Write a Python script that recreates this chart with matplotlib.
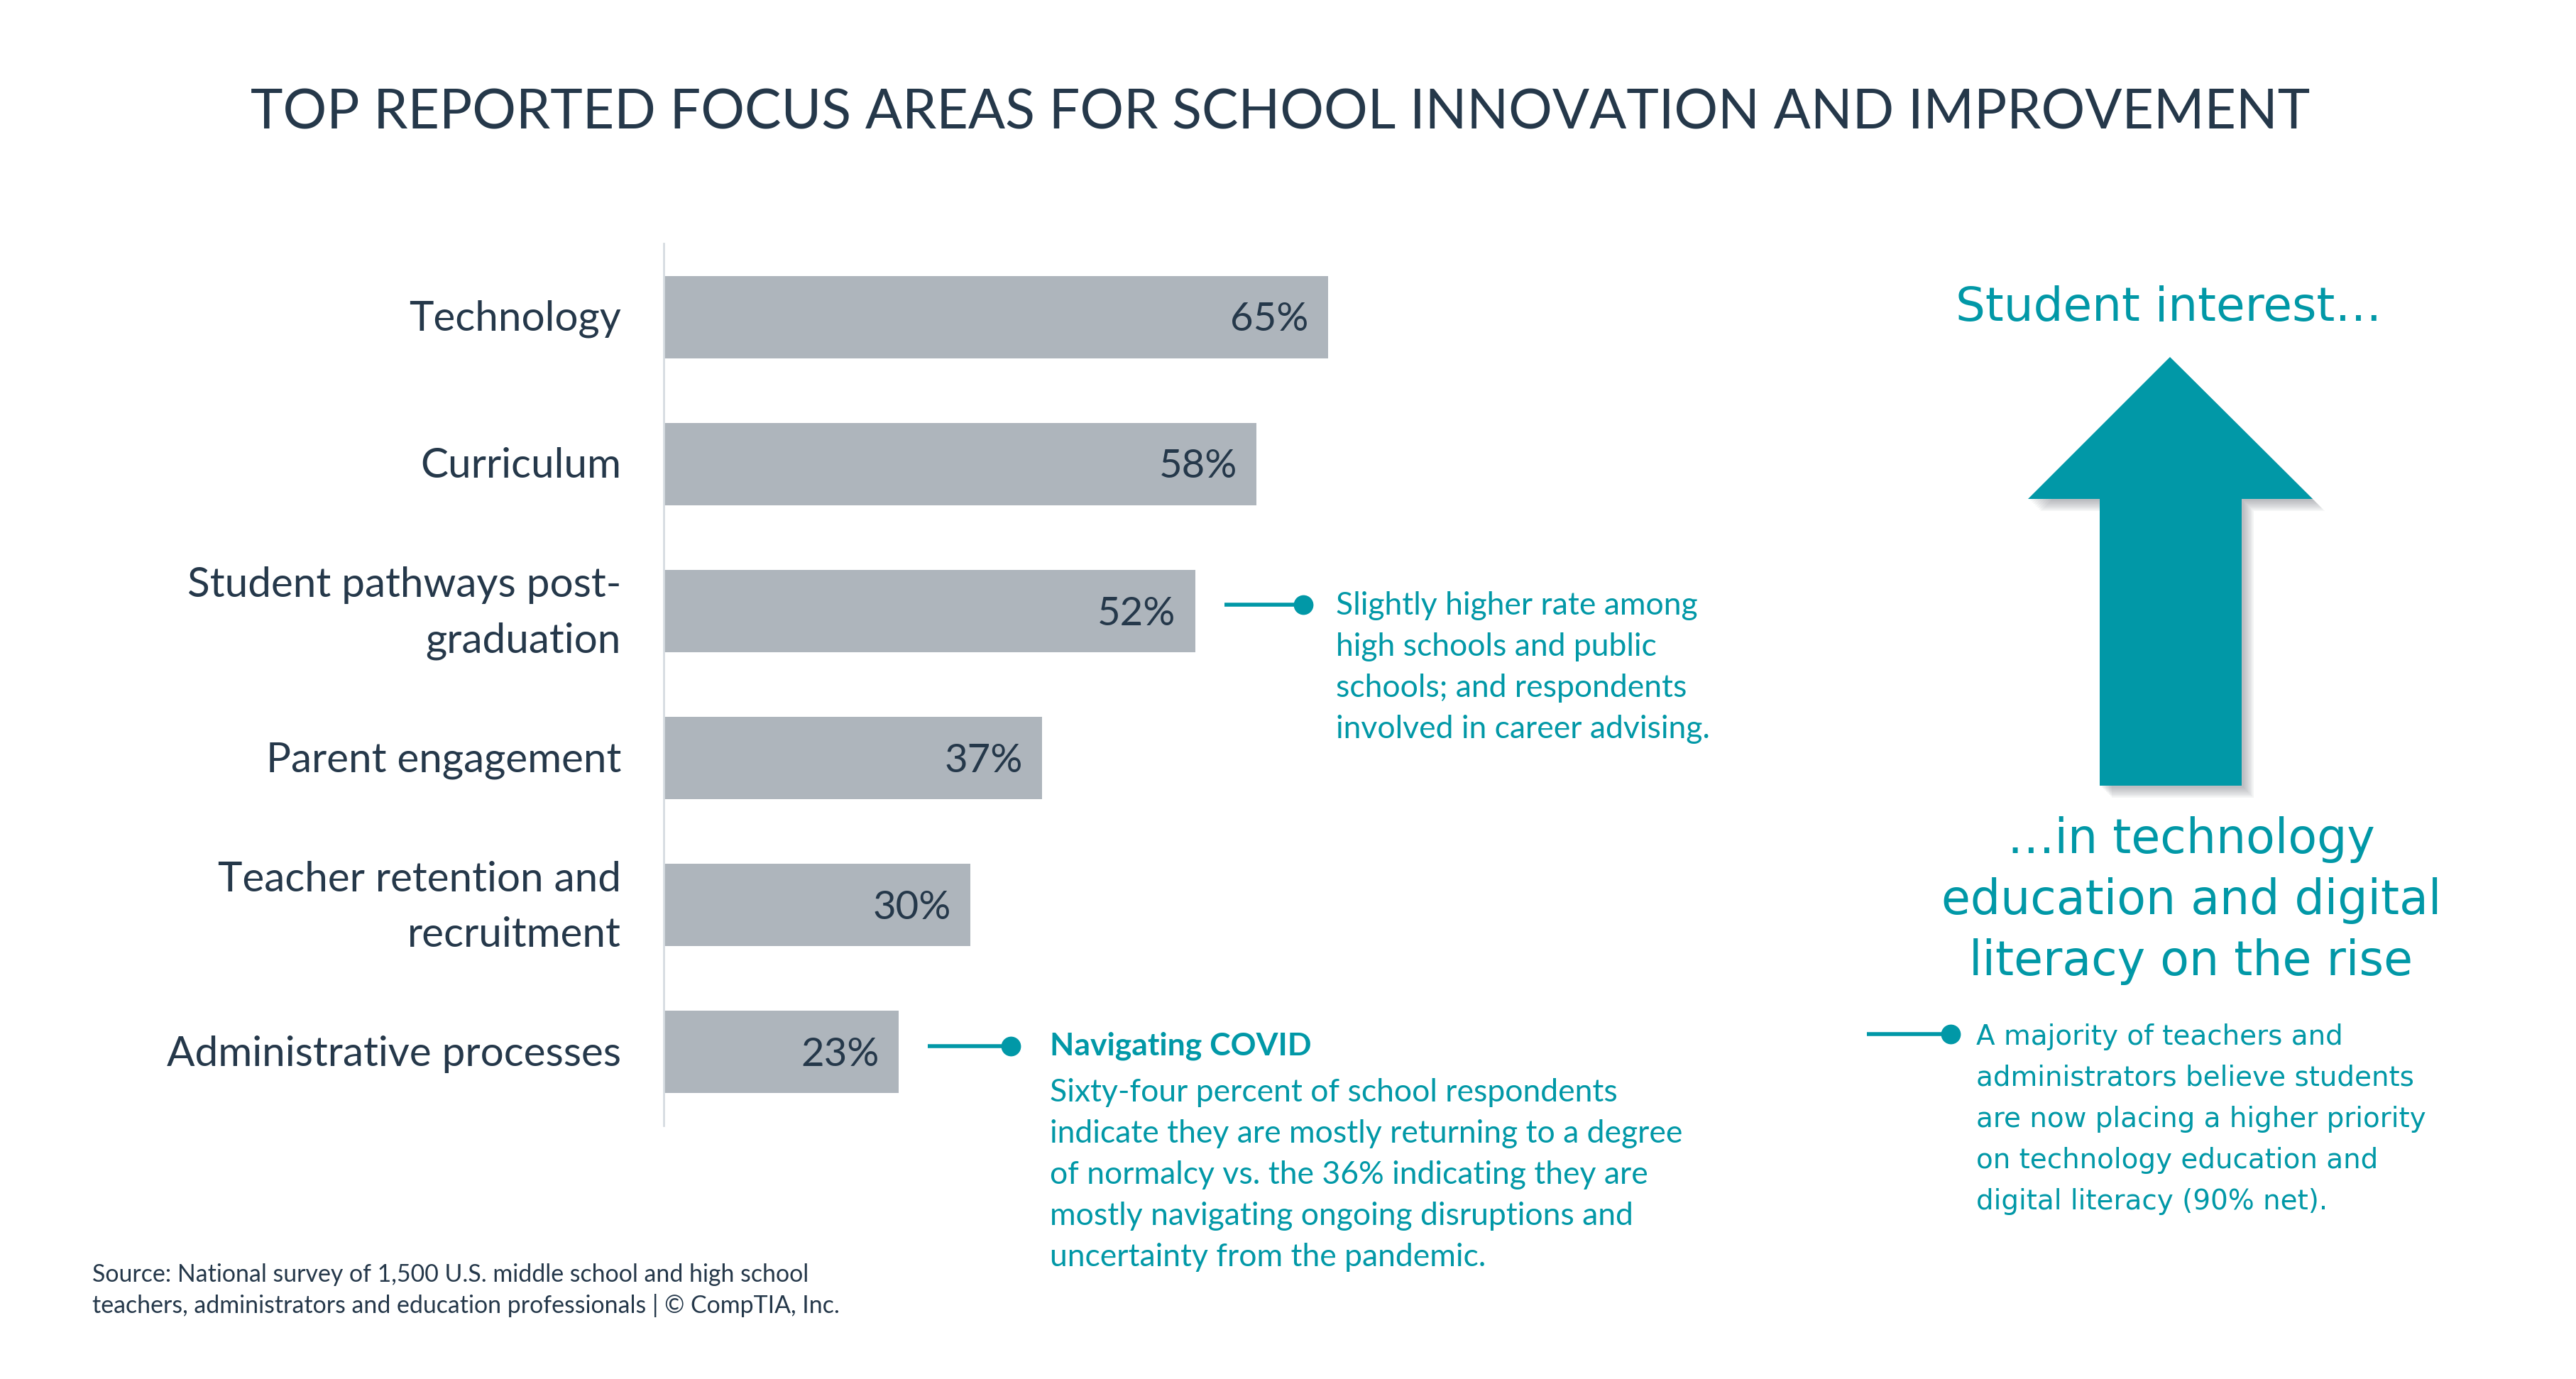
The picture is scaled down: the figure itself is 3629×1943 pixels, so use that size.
import matplotlib
matplotlib.use("Agg")
import matplotlib.pyplot as plt
from matplotlib.patches import Polygon
from matplotlib.transforms import blended_transform_factory, ScaledTranslation

# ---------------- data ----------------
categories = ["Technology", "Curriculum", "Student pathways post-\ngraduation",
              "Parent engagement", "Teacher retention and\nrecruitment",
              "Administrative processes"]
values = [65, 58, 52, 37, 30, 23]
value_labels = ["65%", "58%", "52%", "37%", "30%", "23%"]

title = "TOP REPORTED FOCUS AREAS FOR SCHOOL INNOVATION AND IMPROVEMENT"
note_pathways = ["Slightly higher rate among", "high schools and public",
                 "schools; and respondents", "involved in career advising."]
covid_head = "Navigating COVID"
covid_lines = ["Sixty-four percent of school respondents",
               "indicate they are mostly returning to a degree",
               "of normalcy vs. the 36% indicating they are",
               "mostly navigating ongoing disruptions and",
               "uncertainty from the pandemic."]
right_top = "Student interest\u2026"
right_mid = ["\u2026in technology", "education and digital", "literacy on the rise"]
right_note = ["A majority of teachers and", "administrators believe students",
              "are now placing a higher priority", "on technology education and",
              "digital literacy (90% net)."]
source_lines = ["Source: National survey of 1,500 U.S. middle school and high school",
                "teachers, administrators and education professionals | \u00a9 CompTIA, Inc."]

# ---------------- style ----------------
W, H = 3630, 1943
DARK = "#25384A"
TEAL = "#0198A7"
BAR = "#AEB5BC"
SPINE = "#D6DCE1"
CAL = ["Lato", "DejaVu Sans"]
VER = ["DejaVu Sans"]

fig = plt.figure(figsize=(W / 100, H / 100), dpi=100)
fig.patch.set_facecolor("white")

# overlay in pixel coordinates for decorations
ov = fig.add_axes([0, 0, 1, 1], zorder=0)
ov.set_xlim(0, W)
ov.set_ylim(H, 0)
ov.axis("off")

# ---------------- bar chart ----------------
ax_left, ax_top, ax_bot = 935, 343, 1586
ax = fig.add_axes([ax_left / W, 1 - ax_bot / H, 1440 / W, (ax_bot - ax_top) / H], zorder=2)
ax.patch.set_alpha(0)
ypos = list(range(len(categories)))
ax.barh(ypos, values, height=0.56, color=BAR, left=0)
ax.set_xlim(0, 100)
ax.set_ylim(5.5, -0.5)
for s in ["top", "right", "bottom"]:
    ax.spines[s].set_visible(False)
ax.spines["left"].set_color(SPINE)
ax.spines["left"].set_linewidth(2)
ax.set_xticks([])
ax.set_yticks([])

lab_tr = blended_transform_factory(ax.transAxes, ax.transData) + \
    ScaledTranslation(-0.60, 0, fig.dpi_scale_trans)
for y, cat in zip(ypos, categories):
    ax.text(0, y + 0.015, cat, transform=lab_tr, ha="right", va="center",
            fontsize=42, color=DARK, family=CAL, linespacing=1.58)
for y, v, lab in zip(ypos, values, value_labels):
    ax.text(v - 1.9, y + 0.02, lab, ha="right", va="center", fontsize=40.5,
            color=DARK, family=CAL)

# ---------------- title ----------------
ov.text(1804, 160, title, ha="center", va="center", fontsize=55.5, color=DARK,
        family=CAL)


def connector(x0, x1, y):
    ov.plot([x0, x1], [y, y], color=TEAL, lw=4, solid_capstyle="butt", zorder=3)
    ov.plot([x1], [y], "o", color=TEAL, ms=19, zorder=3)


# pathways note
connector(1725, 1836, 852)
for i, line in enumerate(note_pathways):
    ov.text(1882, 854 + i * 58, line, ha="left", va="center", fontsize=32,
            color=TEAL, family=CAL)

# covid note
connector(1307, 1424, 1474)
ov.text(1479, 1474, covid_head, ha="left", va="center", fontsize=32,
        color=TEAL, family=CAL, fontweight="bold")
for i, line in enumerate(covid_lines):
    ov.text(1479, 1540 + i * 58, line, ha="left", va="center", fontsize=32,
            color=TEAL, family=CAL)

# ---------------- right panel ----------------
ov.text(3055, 434, right_top, ha="center", va="center", fontsize=47.5,
        color=TEAL, family=VER)

arrow = [(3057, 503), (3258, 703), (3158, 703), (3158, 1107),
         (2958, 1107), (2958, 703), (2857, 703)]
for k in range(8):
    off = 3 + k * 2
    sh = [(x + off, y + off) for x, y in arrow]
    ov.add_patch(Polygon(sh, closed=True, facecolor="#70757C", edgecolor="none",
                         alpha=0.07, zorder=1))
ov.add_patch(Polygon(arrow, closed=True, facecolor=TEAL, edgecolor="none", zorder=2))

for i, line in enumerate(right_mid):
    ov.text(3087, 1183 + i * 86, line, ha="center", va="center", fontsize=48,
            color=TEAL, family=VER)

connector(2630, 2748, 1457)
for i, line in enumerate(right_note):
    ov.text(2784, 1461 + i * 58, line, ha="left", va="center", fontsize=28,
            color=TEAL, family=VER)

# ---------------- source ----------------
for i, line in enumerate(source_lines):
    ov.text(130, 1796 + i * 44, line, ha="left", va="center", fontsize=24.4,
            color=DARK, family=CAL)

fig.savefig("out.png", dpi=100, facecolor="white")
